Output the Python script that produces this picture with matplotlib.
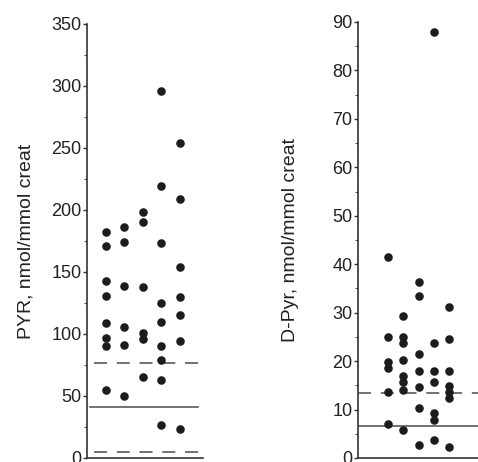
import matplotlib
matplotlib.use("Agg")
import matplotlib.pyplot as plt
from matplotlib.ticker import MultipleLocator

plt.rcParams['font.family'] = ['Liberation Sans Narrow', 'Liberation Sans', 'DejaVu Sans']

# groups 1..5, values
pyr_groups = [1]*8 + [2]*6 + [3]*6 + [4]*9 + [5]*7
pyr_vals = [182, 171, 143, 131, 109, 97, 90, 55,
            186, 174, 139, 106, 91, 50,
            198, 190, 138, 101, 96, 65,
            296, 219, 173, 125, 110, 90, 79, 63, 27,
            254, 209, 154, 130, 115, 94, 23]
pyr_mean = 41
pyr_dash = [77, 5]

dpyr_groups = [1]*6 + [2]*8 + [3]*7 + [4]*7 + [5]*7
dpyr_vals = [41.5, 25, 19.8, 18.6, 13.6, 7.0,
             29.3, 25, 23.7, 20.2, 17, 15.7, 14, 5.8,
             36.3, 33.4, 21.5, 18, 14.7, 10.3, 2.7,
             88, 23.7, 18, 15.7, 9.3, 7.8, 3.7,
             31.2, 24.6, 18, 14.9, 13.6, 12.4, 2.3]
dpyr_mean = 6.6
dpyr_dash = [13.4]

W, H = 478, 462
fig = plt.figure(figsize=(W/100, H/100), dpi=100)

ax1 = fig.add_axes([87/W, 4/H, 116/W, 434/H])
ax2 = fig.add_axes([358/W, 4/H, 120/W, 436/H])

ink = "#1c1c1c"
linec = "#4a4a4a"

def style(ax):
    for s in ["top", "right"]:
        ax.spines[s].set_visible(False)
    for s in ["left", "bottom"]:
        ax.spines[s].set_color("#333333")
        ax.spines[s].set_linewidth(1.2)
    ax.set_xticks([])
    ax.tick_params(axis="y", which="major", length=3, width=1, pad=1,
                   labelsize=13, colors="#333333", labelcolor="#222222")
    ax.tick_params(axis="y", which="minor", length=2, width=0.8, colors="#555555")

# left panel
ax1.scatter(pyr_groups, pyr_vals, s=38, color=ink, zorder=3, linewidths=0)
ax1.plot([0.15, 5.95], [pyr_mean]*2, color=linec, lw=1.1)
for d in pyr_dash:
    ax1.plot([0.4, 6.24], [d]*2, color=linec, lw=1.1, dashes=(8.5, 6.4))
ax1.set_xlim(0, 6.24)
ax1.set_ylim(0, 350)
ax1.yaxis.set_major_locator(MultipleLocator(50))
ax1.yaxis.set_minor_locator(MultipleLocator(25))
style(ax1)
ax1.set_ylabel("PYR, nmol/mmol creat", fontsize=14, color="#222222", labelpad=12)

# right panel
ax2.scatter(dpyr_groups, dpyr_vals, s=38, color=ink, zorder=3, linewidths=0)
ax2.axhline(dpyr_mean, color=linec, lw=1.1)
for d in dpyr_dash:
    ax2.axhline(d, color=linec, lw=1.1, dashes=(8.5, 6.4))
ax2.set_xlim(-0.97, 6.9)
ax2.set_ylim(0, 90)
ax2.yaxis.set_major_locator(MultipleLocator(10))
ax2.yaxis.set_minor_locator(MultipleLocator(5))
style(ax2)
ax2.set_ylabel("D-Pyr, nmol/mmol creat", fontsize=14, color="#222222", labelpad=24)

fig.savefig("out.png", dpi=100)
